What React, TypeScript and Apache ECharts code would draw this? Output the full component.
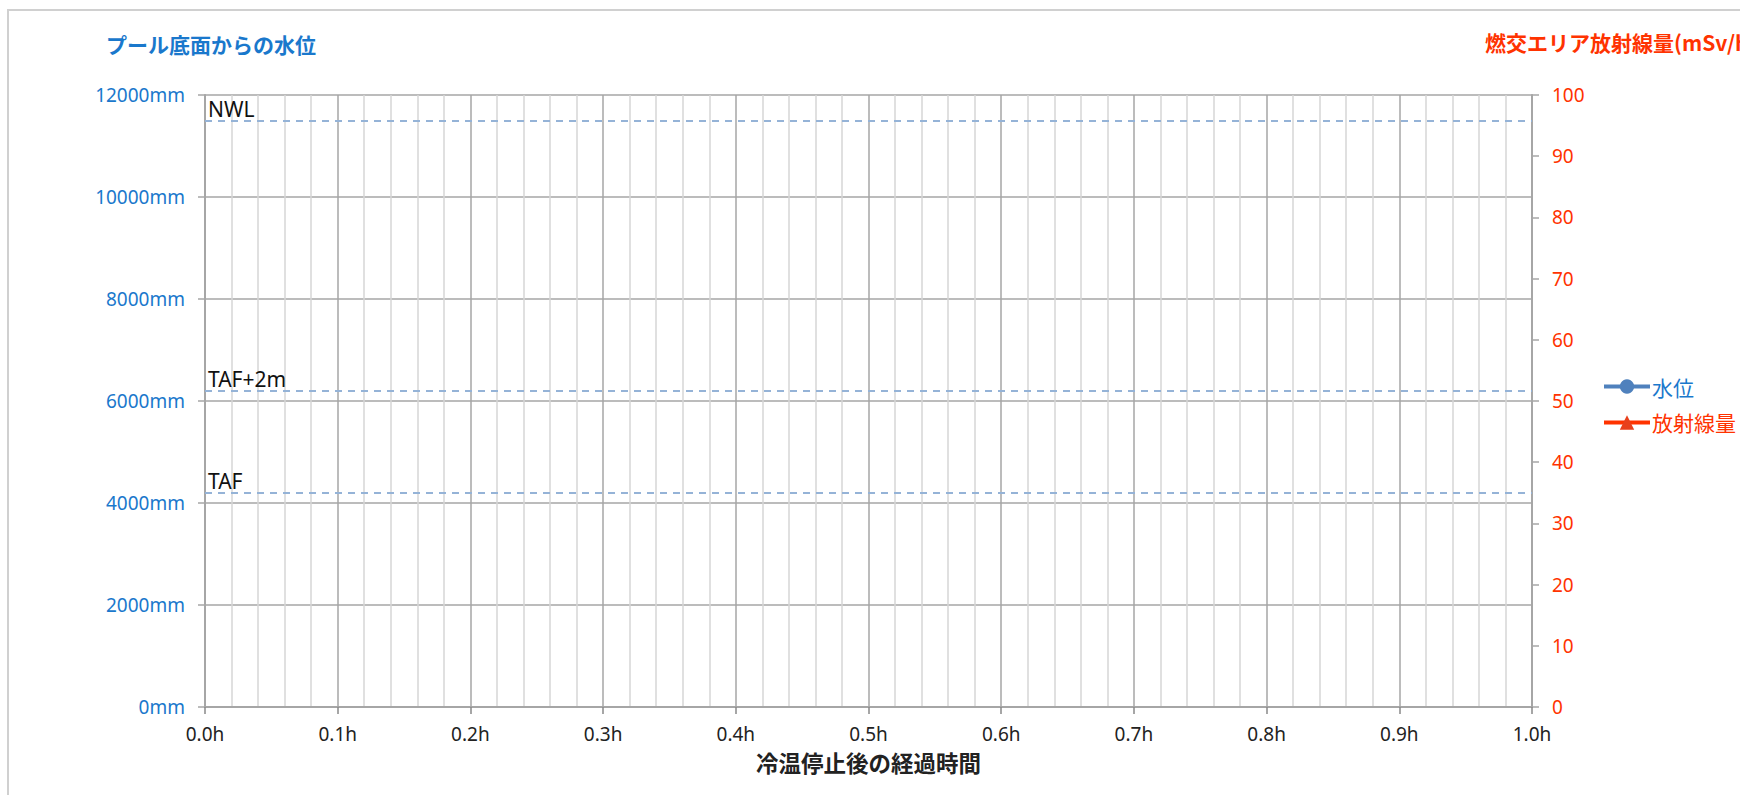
import React, { useEffect, useRef } from "react";
import * as echarts from "echarts";

const seriesNames = ["水位", "放射線量"];
const waterLevel: [number, number][] = [];
const radiation: [number, number][] = [];
const refLevels = [11500, 6200, 4200];
const refLabels = ["NWL", "TAF+2m", "TAF"];
const leftTitle = "プール底面からの水位";
const rightTitle = "燃交エリア放射線量(mSv/h)";
const xTitle = "冷温停止後の経過時間";

const BLUE_TXT = "#1a78cc";
const RED = "#ff3300";
const GRID = "#a6a6a6";
const FONT = "'Noto Sans', 'Noto Sans CJK JP', sans-serif";
const CJK = "'Noto Sans CJK JP', sans-serif";

export default function App() {
  const ref = useRef<HTMLDivElement>(null);
  useEffect(() => {
    document.body.style.margin = "0";
    document.body.style.overflow = "hidden";
    const chart = echarts.init(ref.current!, null, { renderer: "svg" });
    chart.setOption({
      animation: false,
      backgroundColor: "#ffffff",
      grid: { left: 205, right: 208, top: 95, bottom: 88 },
      graphic: [
        {
          type: "rect",
          shape: { x: 8, y: 10, width: 1800, height: 900 },
          style: { fill: "none", stroke: "#d0d0d0", lineWidth: 2 },
          silent: true,
        },
        {
          type: "text",
          left: 106,
          top: 33,
          style: { text: leftTitle, fill: BLUE_TXT, font: `bold 21px ${CJK}` },
        },
        {
          type: "text",
          left: 1485,
          top: 31,
          style: { text: rightTitle, fill: RED, font: `bold 21px ${CJK}` },
        },
        {
          type: "text",
          left: 756,
          top: 751,
          style: { text: xTitle, fill: "#222222", font: `bold 22.5px ${CJK}` },
        },
      ],
      legend: {
        orient: "vertical",
        left: 1597,
        top: 371,
        itemGap: 15,
        itemWidth: 46,
        itemHeight: 18,
        data: [
          {
            name: seriesNames[0],
            textStyle: { color: BLUE_TXT },
            itemStyle: { color: "#4f81bd" },
            lineStyle: { color: "#4f81bd", width: 4 },
          },
          {
            name: seriesNames[1],
            textStyle: { color: RED },
            itemStyle: { color: "#e8401c" },
            lineStyle: { color: RED, width: 4 },
          },
        ],
        textStyle: { fontSize: 21, fontFamily: CJK, padding: [0, 0, 0, -3] },
      },
      xAxis: {
        type: "value",
        min: 0,
        max: 1,
        interval: 0.1,
        axisLine: { show: true, lineStyle: { color: GRID, width: 2 } },
        axisTick: { show: true, length: 7, lineStyle: { color: "#888888", width: 1.5 } },
        axisLabel: {
          formatter: (v: number) => v.toFixed(1) + "h",
          color: "#222222",
          fontSize: 19,
          fontFamily: FONT,
          margin: 17,
        },
        splitLine: { show: true, lineStyle: { color: GRID, width: 1.5 } },
        minorTick: { show: false, splitNumber: 5 },
        minorSplitLine: { show: true, lineStyle: { color: "#d6d6d6", width: 1.5 } },
      },
      yAxis: [
        {
          type: "value",
          min: 0,
          max: 12000,
          interval: 2000,
          position: "left",
          axisLine: { show: true, lineStyle: { color: GRID, width: 2 } },
          axisTick: { show: true, length: 7, lineStyle: { color: GRID, width: 1.5 } },
          axisLabel: {
            formatter: (v: number) => String(v) + "mm",
            color: BLUE_TXT,
            fontSize: 19,
            fontFamily: FONT,
            margin: 20,
          },
          splitLine: { show: true, lineStyle: { color: GRID, width: 1.5 } },
        },
        {
          type: "value",
          min: 0,
          max: 100,
          interval: 10,
          position: "right",
          axisLine: { show: true, lineStyle: { color: GRID, width: 2 } },
          axisTick: { show: true, length: 7, lineStyle: { color: GRID, width: 1.5 } },
          axisLabel: {
            color: RED,
            fontSize: 19,
            fontFamily: FONT,
            margin: 20,
          },
          splitLine: { show: false },
        },
      ],
      series: [
        {
          name: seriesNames[0],
          type: "line",
          yAxisIndex: 0,
          data: waterLevel,
          symbol: "circle",
          symbolSize: 12,
          itemStyle: { color: "#4f81bd" },
          lineStyle: { color: "#4f81bd", width: 4 },
        },
        {
          name: seriesNames[1],
          type: "line",
          yAxisIndex: 1,
          data: radiation,
          symbol: "triangle",
          symbolSize: 12,
          itemStyle: { color: "#e8401c" },
          lineStyle: { color: RED, width: 4 },
        },
        {
          name: "ref",
          type: "line",
          yAxisIndex: 0,
          data: [],
          markLine: {
            silent: true,
            symbol: "none",
            lineStyle: { color: "#95b3d7", type: [7, 6], width: 2 },
            label: {
              show: true,
              position: "insideStartTop",
              formatter: "{b}",
              color: "#111111",
              fontSize: 21,
              fontFamily: FONT,
              distance: [3, 1],
            },
            data: refLevels.map((v, i) => ({ yAxis: v, name: refLabels[i] })),
          },
        },
      ],
    });
    return () => chart.dispose();
  }, []);
  return <div ref={ref} style={{ width: 1740, height: 795 }} />;
}
